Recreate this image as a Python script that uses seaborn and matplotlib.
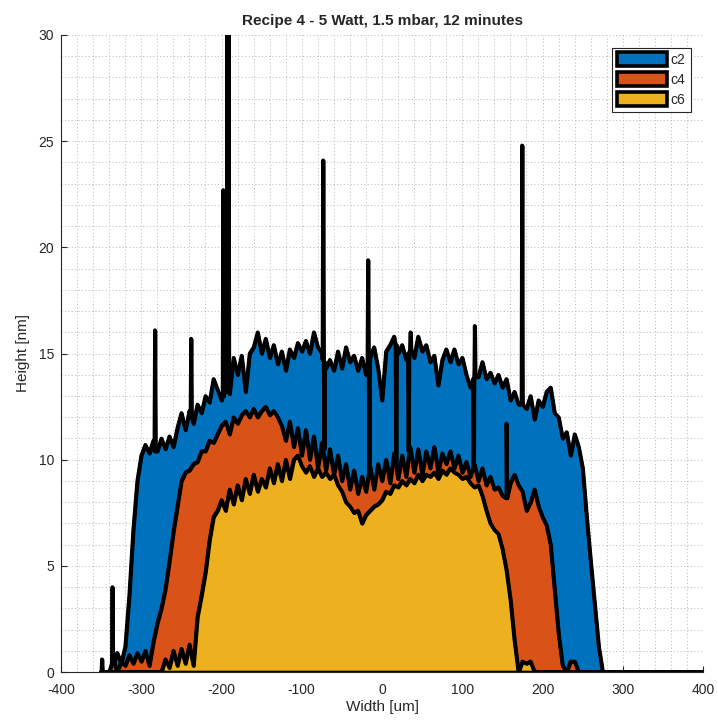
import numpy as np
import matplotlib
matplotlib.use("Agg")
import matplotlib.pyplot as plt
import seaborn as sns
from matplotlib.patches import Patch
from matplotlib.ticker import MultipleLocator

# ---------------- data ----------------
width = np.arange(-350, 401, 5)  # um

c2_height = [
    0, 0, 0, 0.3, 0.9, 0.4, 1.2, 3.6, 6.7, 9.0,
    10.2, 10.7, 10.3, 10.9, 10.4, 11.0, 10.5, 11.1, 10.6, 11.5,
    12.2, 11.4, 12.3, 11.7, 12.6, 12.2, 13.0, 12.7, 13.8, 13.3,
    12.8, 13.6, 13.1, 14.8, 14.0, 14.9, 13.2, 15.0, 15.3, 16.0,
    15.0, 15.7, 14.8, 15.4, 14.5, 15.1, 14.2, 15.2, 14.8, 15.5,
    15.1, 15.6, 15.0, 16.0, 15.3, 15.0, 14.3, 14.7, 14.2, 15.1,
    14.3, 15.3, 14.6, 14.9, 14.2, 14.8, 14.0, 14.8, 15.3, 14.3,
    12.8, 15.1, 15.4, 15.8, 15.0, 15.4, 14.7, 15.5, 14.8, 15.8,
    15.1, 15.4, 14.6, 14.9, 13.5, 14.7, 15.2, 14.6, 15.2, 14.5,
    14.8, 14.0, 13.4, 14.2, 13.9, 14.6, 13.8, 14.1, 13.6, 14.0,
    13.4, 13.8, 12.8, 13.2, 12.6, 13.1, 12.4, 13.0, 11.9, 12.8,
    12.5, 13.2, 13.4, 12.2, 12.0, 11.0, 11.3, 10.2, 11.2, 10.6,
    9.6, 7.3, 5.2, 3.2, 1.2, 0, 0, 0, 0, 0,
] + [0] * 21

c4_height = [
    0, 0, 0, 0.6, 0, 0.5, 0.3, 0.8, 0.4, 0.9,
    0.5, 1.0, 0.3, 1.4, 2.3, 3.0, 3.9, 5.2, 6.6, 7.8,
    9.0, 9.4, 9.5, 9.8, 9.9, 10.4, 10.4, 10.9, 10.8, 11.2,
    11.6, 11.8, 11.2, 12.0, 11.7, 12.1, 12.3, 12.0, 12.4, 12.0,
    12.3, 12.5, 12.1, 12.3, 12.0, 11.6, 10.9, 11.8, 10.6, 11.5,
    10.2, 11.4, 10.0, 11.1, 9.6, 10.8, 9.5, 10.5, 9.3, 10.2,
    9.0, 9.8, 8.6, 9.5, 8.4, 9.2, 8.5, 9.7, 8.6, 9.8,
    9.0, 10.0, 8.9, 10.3, 9.1, 10.2, 9.2, 10.6, 9.4, 10.5,
    9.3, 10.4, 9.6, 10.6, 9.4, 10.3, 9.8, 10.4, 9.6, 10.2,
    9.4, 9.9, 9.2, 9.8, 9.0, 9.6, 8.8, 9.2, 8.6, 8.7,
    8.3, 8.2, 8.9, 9.3, 8.8, 8.5, 7.6, 8.0, 8.6, 7.8,
    7.3, 6.9, 6.0, 3.9, 1.8, 0.3, 0, 0.5, 0.5, 0,
] + [0] * 31

c6_height = [0] * 16 + [
    0.6, 0.2, 1.0, 0.3, 1.1, 0.4, 1.3, 0.3, 2.6, 3.6,
    4.7, 6.2, 7.3, 7.6, 8.1, 7.6, 8.6, 7.9, 8.8, 8.1,
    9.1, 8.4, 9.3, 8.5, 9.1, 8.7, 9.6, 8.9, 9.8, 9.0,
    10.0, 9.1, 10.0, 10.2, 9.7, 9.4, 9.7, 9.2, 9.6, 9.2,
    9.4, 9.1, 9.3, 8.8, 8.5, 8.0, 7.8, 7.5, 7.6, 7.0,
    7.4, 7.6, 7.8, 7.9, 8.1, 8.5, 8.4, 8.8, 8.7, 9.0,
    8.8, 9.1, 8.9, 9.3, 9.0, 9.3, 9.2, 9.4, 9.1, 9.5,
    9.3, 9.6, 9.4, 9.3, 9.1, 9.2, 8.9, 8.7, 8.8, 8.3,
    7.6, 7.0, 6.7, 6.5, 5.8, 4.8, 3.4, 1.5, 0, 0.5,
    0.4, 0.5,
] + [0] * 43

# narrow spikes / dips: (position um, local level nm, spike value nm)
c2_spikes = [
    (-349, 0, 0.6), (-336, 0, 4.0), (-283, 10.4, 16.1), (-238, 12.0, 15.7),
    (-198, 13.0, 22.7), (-193, 13.2, 31.0), (-191.5, 13.4, 31.0),
    (-73.5, 14.7, 24.1), (-72, 14.6, 10.5), (-17.5, 14.6, 19.4), (-16, 14.5, 9.5),
    (17.5, 15.4, 9.4), (33, 15.0, 10.4), (35.5, 15.2, 16.0),
    (114, 13.8, 7.2), (115.5, 13.9, 16.3), (174.5, 12.6, 24.8),
]
c4_spikes = [(155, 8.2, 11.7)]
c6_spikes = []

series_names = ["c2", "c4", "c6"]
series_colors = ["#0072BD", "#D95319", "#EDB120"]

assert len(c2_height) == len(width)
assert len(c4_height) == len(width)
assert len(c6_height) == len(width)


def profile(heights, spikes, half=0.7):
    xs = list(width.astype(float))
    ys = list(heights)
    for sx, base, peak in spikes:
        xs += [sx - half, sx, sx + half]
        ys += [base, peak, base]
    order = np.argsort(xs, kind="stable")
    return np.array(xs)[order], np.array(ys)[order]


# ---------------- plot ----------------
sns.set_style("ticks")
plt.rcParams["font.family"] = ["Liberation Sans", "DejaVu Sans"]
plt.rcParams["axes.unicode_minus"] = False

fig = plt.figure(figsize=(7.18, 7.24), dpi=100)
ax = fig.add_axes([61 / 718, 52 / 724, 642 / 718, 637 / 724])

lw = 2.6
for name, col, h, sp in zip(series_names, series_colors,
                            [c2_height, c4_height, c6_height],
                            [c2_spikes, c4_spikes, c6_spikes]):
    x, y = profile(h, sp)
    ax.fill_between(x, 0, y, facecolor=col, edgecolor="black",
                    linewidth=lw, zorder=2)
    sns.lineplot(x=x, y=y, color="black", linewidth=lw, ax=ax,
                 estimator=None, sort=False, zorder=2)

ax.set_xlim(-400, 400)
ax.set_ylim(0, 30)
ax.xaxis.set_major_locator(MultipleLocator(100))
ax.xaxis.set_minor_locator(MultipleLocator(20))
ax.yaxis.set_major_locator(MultipleLocator(5))
ax.yaxis.set_minor_locator(MultipleLocator(1))

ax.grid(True, which="both", linestyle=(0, (1, 2.5)), color="#b5b5b5",
        linewidth=0.7)
ax.set_axisbelow(True)

for s in ["top", "right"]:
    ax.spines[s].set_visible(False)
for s in ["left", "bottom"]:
    ax.spines[s].set_color("#262626")
    ax.spines[s].set_linewidth(0.8)

ax.tick_params(which="major", direction="in", length=4, width=0.8,
               colors="#262626", labelsize=10, labelcolor="#262626")
ax.tick_params(axis="x", which="major", pad=8)
ax.tick_params(axis="y", which="major", pad=5)
ax.tick_params(which="minor", direction="in", length=0)

ax.set_xlabel("Width [um]", fontsize=11, color="#262626", labelpad=2)
ax.set_ylabel("Height [nm]", fontsize=11, color="#262626", labelpad=6)
ax.set_title("Recipe 4 - 5 Watt, 1.5 mbar, 12 minutes", fontsize=11,
             fontweight="bold", pad=7)

handles = [Patch(facecolor=c, edgecolor="black", linewidth=lw)
           for c in series_colors]
leg = ax.legend(handles, series_names, loc="upper right", fontsize=10,
                frameon=True, fancybox=False, framealpha=1,
                edgecolor="#262626", handlelength=3.6, handleheight=1.1,
                handletextpad=0.25, labelspacing=0.4, borderpad=0.35,
                borderaxespad=0.9)
leg.get_frame().set_linewidth(0.8)

fig.savefig("out.png", dpi=100)
